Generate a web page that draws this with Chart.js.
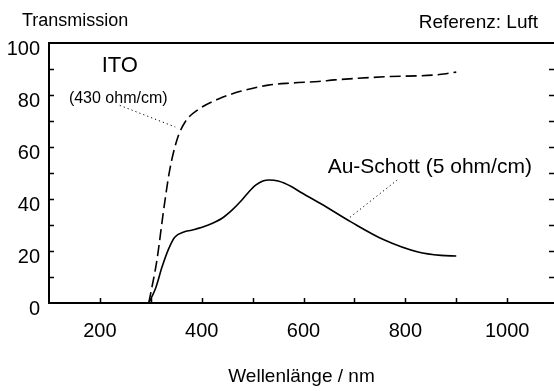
<!DOCTYPE html>
<html>
<head>
<meta charset="utf-8">
<script src="https://cdn.jsdelivr.net/npm/chart.js@4.4.1/dist/chart.umd.min.js"></script>
<style>
  html, body { margin: 0; padding: 0; background: #fff; overflow: hidden; }
  #wrap { width: 554px; height: 391px; position: relative; }
</style>
</head>
<body>
<div id="wrap"><canvas id="myChart"></canvas></div>
<script>
// wavelength (nm) / transmission (%)
var itoWl = [296, 312, 325, 337, 351, 367, 394, 433, 478, 531, 576, 629, 661, 759, 857, 880, 900];
var itoT  = [0, 16.5, 35.5, 51, 62.5, 69.5, 74.5, 78.5, 81.5, 83.8, 84.6, 85.2, 85.8, 87, 87.7, 88.2, 88.8];

var auWl = [296, 310, 322, 335, 347, 365, 380, 413, 440, 460, 478, 492, 506, 520, 533, 550, 576, 596, 635, 694, 759, 825, 870, 900];
var auT  = [0, 6, 13.8, 20.8, 25.3, 27.3, 28, 30, 32.6, 35.8, 39.4, 42.6, 45.3, 46.9, 47.3, 46.9, 44.8, 42.4, 38.1, 31.1, 24.2, 19.6, 18.3, 18.1];

var xTicks = [200, 400, 600, 800, 1000];
var yTicks = [0, 20, 40, 60, 80, 100];

var FONT = '"Liberation Sans", Arial, sans-serif';

function pairs(xs, ys) {
    return xs.map(function (x, i) { return {x: x, y: ys[i]}; });
}

// texts, inner tick marks and the top frame line
const extras = {
    id: 'extras',
    afterDraw(chart) {
        const ctx = chart.ctx;
        const a = chart.chartArea;
        const sx = chart.scales.x;
        const sy = chart.scales.y;
        ctx.save();
        ctx.strokeStyle = '#000';
        ctx.fillStyle = '#000';

        // top frame
        ctx.lineWidth = 2;
        ctx.beginPath();
        ctx.moveTo(a.left, a.top);
        ctx.lineTo(a.right, a.top);
        ctx.stroke();

        // inward ticks
        ctx.lineWidth = 1.5;
        ctx.beginPath();
        for (let v = 200; v <= 1000; v += 100) {
            const px = Math.round(sx.getPixelForValue(v)) + 0.5;
            ctx.moveTo(px, a.bottom);
            ctx.lineTo(px, a.bottom - 5);
        }
        for (let v = 10; v < 100; v += 10) {
            const py = Math.round(sy.getPixelForValue(v)) + 0.5;
            ctx.moveTo(a.left, py);
            ctx.lineTo(a.left + 5, py);
            ctx.moveTo(a.right, py);
            ctx.lineTo(a.right - 5, py);
        }
        ctx.stroke();

        // leader lines
        ctx.lineWidth = 1;
        ctx.setLineDash([1.2, 3]);
        ctx.beginPath();
        ctx.moveTo(sx.getPixelForValue(239), sy.getPixelForValue(76));
        ctx.lineTo(sx.getPixelForValue(348), sy.getPixelForValue(67.7));
        ctx.moveTo(sx.getPixelForValue(784), sy.getPixelForValue(47.3));
        ctx.lineTo(sx.getPixelForValue(687), sy.getPixelForValue(32.3));
        ctx.stroke();
        ctx.setLineDash([]);

        // labels
        ctx.textBaseline = 'middle';
        ctx.textAlign = 'center';
        ctx.font = '22px ' + FONT;
        ctx.fillText('ITO', sx.getPixelForValue(239), sy.getPixelForValue(91));
        ctx.font = '16px ' + FONT;
        ctx.fillText('(430 ohm/cm)', sx.getPixelForValue(236), sy.getPixelForValue(78.8));
        ctx.font = '21px ' + FONT;
        ctx.fillText('Au-Schott (5 ohm/cm)', sx.getPixelForValue(848), sy.getPixelForValue(52.3));

        ctx.textBaseline = 'alphabetic';
        ctx.font = '18px ' + FONT;
        ctx.textAlign = 'left';
        ctx.fillText('Transmission', 22, 26);
        ctx.font = '19px ' + FONT;
        ctx.textAlign = 'right';
        ctx.fillText('Referenz: Luft', 538, 28);
        ctx.restore();
    }
};

const data = {
    datasets: [
        {
            label: 'ITO (430 ohm/cm)',
            data: pairs(itoWl, itoT),
            borderColor: '#000',
            borderWidth: 1.6,
            borderDash: [11, 5],
            pointRadius: 0,
            cubicInterpolationMode: 'monotone',
            fill: false
        },
        {
            label: 'Au-Schott (5 ohm/cm)',
            data: pairs(auWl, auT),
            borderColor: '#000',
            borderWidth: 1.6,
            pointRadius: 0,
            cubicInterpolationMode: 'monotone',
            fill: false
        }
    ]
};

const config = {
    type: 'line',
    data: data,
    options: {
        responsive: true,
        maintainAspectRatio: false,
        animation: false,
        layout: { padding: { top: 43, left: 0, right: 0, bottom: 0 } },
        plugins: {
            legend: { display: false },
            tooltip: { enabled: false }
        },
        scales: {
            x: {
                type: 'linear',
                min: 100,
                max: 1092,
                afterBuildTicks: function (scale) {
                    scale.ticks = xTicks.map(function (v) { return {value: v}; });
                },
                afterFit: function (scale) { scale.height = 88; },
                grid: { display: false, drawTicks: false },
                border: { display: true, color: '#000', width: 2 },
                ticks: {
                    color: '#000',
                    font: { family: FONT, size: 20 },
                    padding: 16,
                    maxRotation: 0,
                    callback: function (v) { return String(v); }
                },
                title: {
                    display: true,
                    text: 'Wellenlänge / nm',
                    color: '#000',
                    font: { family: FONT, size: 19 },
                    padding: { top: 0, bottom: 3 }
                }
            },
            y: {
                min: 0,
                max: 100,
                afterBuildTicks: function (scale) {
                    scale.ticks = yTicks.map(function (v) { return {value: v}; });
                },
                afterFit: function (scale) { scale.width = 49; },
                grid: { display: false, drawTicks: false },
                border: { display: true, color: '#000', width: 2 },
                ticks: {
                    color: '#000',
                    font: { family: FONT, size: 20 },
                    padding: 9,
                    labelOffset: 6
                }
            }
        }
    },
    plugins: [extras]
};

const myChart = new Chart(document.getElementById('myChart'), config);
</script>
</body>
</html>
